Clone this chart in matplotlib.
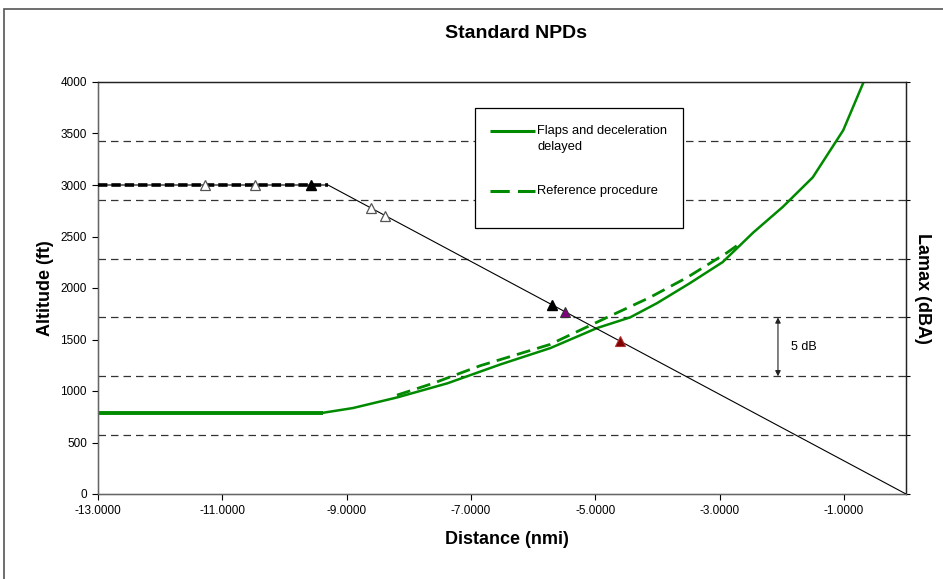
import matplotlib
matplotlib.use("Agg")
import matplotlib.pyplot as plt
from matplotlib.patches import Rectangle

plt.rcParams['font.family'] = ['Liberation Sans', 'DejaVu Sans']

# Altitude profile (ft) vs distance (nmi)
alt_x = [-13.0, -9.3, 0.0]
alt_y = [3000, 3000, 0]
level_x = [-13.0, -9.3]
level_y = [3000, 3000]

# Event markers on the profile
open_x = [-11.28, -10.47, -8.61, -8.38]
open_y = [3000, 3000, 2777, 2703]
black_x = [-9.57, -5.70]
black_y = [3000, 1839]
purple_x = [-5.49]
purple_y = [1771]
red_x = [-4.60]
red_y = [1484]

# Lamax (dBA) - flaps and deceleration delayed
flaps_flat_x = [-13.0, -9.38]
flaps_flat_y = [66.9, 66.9]
flaps_x = [-9.38, -8.90, -8.19, -7.38, -6.53, -5.72, -4.97, -4.44, -4.01,
           -3.48, -2.95, -2.46, -1.98, -1.50, -1.01, -0.69]
flaps_y = [66.9, 67.3, 68.2, 69.4, 71.0, 72.4, 74.1, 75.0, 76.2,
           77.9, 79.7, 82.2, 84.4, 86.9, 90.9, 94.9]

# Lamax (dBA) - reference procedure
ref_x = [-8.19, -7.61, -6.85, -5.73, -4.81, -4.12, -3.52, -2.88, -2.64]
ref_y = [68.4, 69.4, 70.9, 72.7, 75.0, 76.7, 78.4, 80.5, 81.4]

x_ticks = [-13, -11, -9, -7, -5, -3, -1]
y_ticks = [0, 500, 1000, 1500, 2000, 2500, 3000, 3500, 4000]
db_ticks = [60, 65, 70, 75, 80, 85, 90, 95]
legend_labels = ['Flaps and deceleration', 'delayed', 'Reference procedure']

green = '#008a00'

fig = plt.figure(figsize=(9.43, 5.79), dpi=100)
ax = fig.add_axes([98/943, 1-494/579, 808/943, 412/579])
ax2 = ax.twinx()

# right axis grid (dashed)
ax2.set_ylim(60, 95)
ax2.set_yticks(db_ticks)
ax2.set_yticklabels([])
for v in db_ticks[1:-1]:
    ax2.axhline(v, color='#333333', lw=0.9, dashes=(6, 4), zorder=1)
ax2.tick_params(axis='y', length=3, width=0.8, direction='out')

# Altitude
ax.set_zorder(ax2.get_zorder() + 1)
ax.patch.set_visible(False)
ax.plot(alt_x, alt_y, color='black', lw=0.8, zorder=3)
ax.plot(level_x, level_y, color='black', lw=2.6, dashes=(2.6, 1.1), zorder=3)
ax.plot(open_x, open_y, linestyle='none', marker='^', ms=7.5, mfc='white',
        mec='#555555', mew=0.9, zorder=4)
ax.plot(black_x, black_y, linestyle='none', marker='^', ms=7.5, mfc='black',
        mec='black', zorder=4)
ax.plot(purple_x, purple_y, linestyle='none', marker='^', ms=7.5, mfc='#800080',
        mec='#333333', mew=0.8, zorder=4)
ax.plot(red_x, red_y, linestyle='none', marker='^', ms=7.5, mfc='#800000',
        mec='#b03030', mew=0.8, zorder=4)

ax.set_xlim(-13, 0)
ax.set_ylim(0, 4000)
ax.set_xticks(x_ticks)
ax.set_xticklabels(['%.4f' % v for v in x_ticks], fontsize=8.5)
ax.set_yticks(y_ticks)
ax.set_yticklabels([str(v) for v in y_ticks], fontsize=8.5)
ax.tick_params(axis='both', length=4, width=0.8, direction='out', pad=4)

# Lamax lines on right axis scale (mapped to left axis so they sit above grid)
def to_alt(vals):
    return [(v - 60) / 35 * 4000 for v in vals]

ax.plot(flaps_flat_x, to_alt(flaps_flat_y), color=green, lw=2.8, zorder=2,
        solid_capstyle='butt')
ax.plot(flaps_x, to_alt(flaps_y), color=green, lw=1.8, zorder=2)
ax.plot(ref_x, to_alt(ref_y), color=green, lw=2.0, dashes=(5, 2.6), zorder=2)

# 5 dB annotation
ax2.annotate('', xy=(-2.06, 75), xytext=(-2.06, 70),
             arrowprops=dict(arrowstyle='<|-|>', color='#222222', lw=0.8,
                             mutation_scale=8, shrinkA=0, shrinkB=0))
ax2.text(-1.85, 72.5, '5 dB', fontsize=9, va='center', ha='left')

for a in (ax, ax2):
    for s in a.spines.values():
        s.set_linewidth(0.9)
        s.set_color('#222222')
ax.spines['left'].set_color('#666666')
ax.spines['bottom'].set_color('#666666')

ax.set_xlabel('Distance (nmi)', fontsize=13, fontweight='bold', va='center')
ax.xaxis.set_label_coords((507-98)/808, (494-539)/412)
ax.set_ylabel('Altitude (ft)', fontsize=13, fontweight='bold', va='center')
ax.yaxis.set_label_coords((45-98)/808, 0.5)
ax2.set_ylabel('Lamax (dBA)', fontsize=13, fontweight='bold', rotation=270, va='center')
ax2.yaxis.set_label_coords((922-98)/808, 0.5)

fig.text(516/943, 1-34/579, 'Standard NPDs', fontsize=14, fontweight='bold',
         ha='center', va='center')

# legend (drawn manually to match layout)
def axf(px, py):
    return (px - 98) / 808, (494 - py) / 412

x0, y0 = axf(475, 228)
x1, y1 = axf(683, 108)
ax.add_patch(Rectangle((x0, y0), x1 - x0, y1 - y0, transform=ax.transAxes,
                       facecolor='white', edgecolor='black', lw=0.9, zorder=5))
hx0, hy1 = axf(490, 131)
hx1, hy2 = axf(535, 191)
tx, ty2 = axf(537, 147)
ax.plot([hx0, hx1], [hy1, hy1], transform=ax.transAxes, color=green, lw=2.2, zorder=6,
        solid_capstyle='butt')
ax.plot([hx0, hx1], [hy2, hy2], transform=ax.transAxes, color=green, lw=2.2, zorder=6,
        dashes=(6.3, 2.7))
ax.text(tx, hy1, legend_labels[0], transform=ax.transAxes, fontsize=9.3,
        va='center', ha='left', zorder=6)
ax.text(tx, ty2, legend_labels[1], transform=ax.transAxes, fontsize=9.3,
        va='center', ha='left', zorder=6)
ax.text(tx, hy2, legend_labels[2], transform=ax.transAxes, fontsize=9.3,
        va='center', ha='left', zorder=6)

# outer figure frame
fig.add_artist(Rectangle((4/943, -0.1), 2, 1 - 9/579 + 0.1, transform=fig.transFigure,
                         fill=False, edgecolor='#555555', lw=1.2))

fig.savefig('out.png', dpi=100)
